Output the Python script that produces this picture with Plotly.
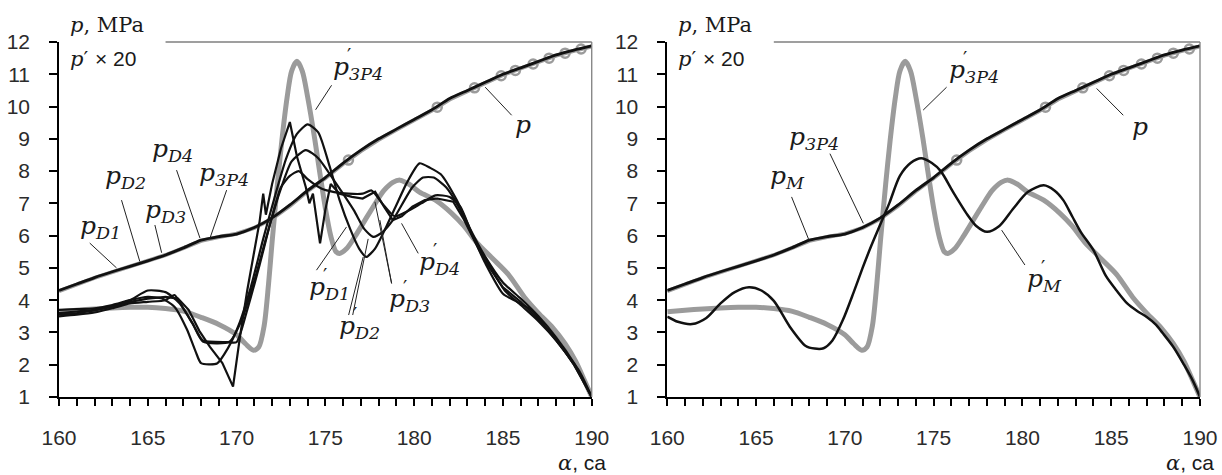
import numpy as np
import plotly.graph_objects as go

# ------------------------- data -------------------------
# crank angle axis ticks
x_ticks = [160, 165, 170, 175, 180, 185, 190]
y_ticks = list(range(1, 13))

# cylinder pressure p (black) and reference p_3P4 (gray), MPa
p_x = list(range(160, 191))
p_vals = [4.30, 4.50, 4.70, 4.88, 5.05, 5.22, 5.40, 5.62, 5.86, 5.97, 6.05,
          6.25, 6.55, 6.95, 7.40, 7.80, 8.25, 8.65, 9.00, 9.30, 9.60, 9.90,
          10.25, 10.50, 10.75, 11.00, 11.20, 11.40, 11.60, 11.75, 11.88]
p3p4_vals = [4.28, 4.49, 4.69, 4.87, 5.04, 5.21, 5.40, 5.61, 5.84, 5.96, 6.06,
             6.24, 6.52, 6.92, 7.38, 7.78, 8.22, 8.62, 8.97, 9.28, 9.58, 9.88,
             10.22, 10.48, 10.73, 10.98, 11.18, 11.38, 11.58, 11.73, 11.86]
loop_x = [176.3, 181.3, 183.4, 184.9, 185.7, 186.7, 187.6, 188.5, 189.4]

# derivative p'_3P4 x 20 (gray, thick)
dp3p4_x = [160, 161, 162, 163, 164, 165, 166, 167, 168, 169, 170, 170.5, 170.95,
           171.25, 171.55, 171.8, 172.0, 172.3, 172.55, 172.85, 173.1, 173.4,
           173.7, 174.0, 174.4, 174.7, 175.0, 175.3, 175.6, 175.8, 176.2, 176.7,
           177.2, 177.7, 178.3, 178.8, 179.2, 179.7, 180.3, 181.2, 182.1, 182.8,
           183.5, 184.4, 185.3, 186.2, 187.0, 187.8, 188.5, 189.1, 189.6, 190.0]
dp3p4 = [3.64, 3.69, 3.73, 3.76, 3.78, 3.78, 3.74, 3.66, 3.47, 3.25, 2.93, 2.65,
         2.45, 2.55, 3.2, 4.5, 5.8, 7.6, 8.95, 10.3, 11.1, 11.4, 11.1, 10.3, 9.0,
         7.9, 6.85, 6.0, 5.5, 5.45, 5.6, 6.0, 6.45, 6.9, 7.4, 7.65, 7.72, 7.6,
         7.35, 7.1, 6.7, 6.3, 5.8, 5.3, 4.8, 4.1, 3.6, 3.15, 2.65, 2.1, 1.5, 1.0]

# derivatives p'_D1..p'_D4 x 20 (left panel)
d1_x = [160, 161, 162, 163, 164, 165, 166, 166.7, 167.3, 167.9, 168.5, 169.2,
        169.8, 170.2, 170.6, 171.0, 171.3, 171.5, 171.65, 172.0, 172.5, 173.0,
        173.4, 173.9, 174.1, 174.3, 174.7, 175.0, 175.3, 175.8, 176.5, 177.1,
        177.8, 178.3, 178.8, 179.3, 179.9, 180.6, 181.3, 182.2, 182.8, 183.3,
        184, 185, 186, 187, 188, 189, 190]
d1_y = [3.55, 3.6, 3.68, 3.8, 3.95, 4.05, 4.1, 4.05, 3.7, 3.05, 2.55, 2.05,
        1.32, 2.9, 4.3, 5.6, 6.45, 7.3, 6.65, 7.6, 8.7, 9.52, 8.45, 7.5, 7.0,
        7.3, 5.76, 6.8, 7.6, 7.3, 7.2, 7.15, 7.36, 6.9, 6.48, 6.6, 6.9, 7.1,
        7.15, 7.05, 6.5, 5.95, 5.2, 4.4, 3.95, 3.4, 2.8, 2.0, 1.0]
d2_x = [160, 161, 162, 163, 164, 165, 165.8, 166.5, 167.2, 167.7, 168.0, 168.9,
        169.5, 170.1, 170.8, 171.5, 172.2, 172.8, 173.4, 174.0, 174.6, 175.25,
        175.8, 176.4, 176.9, 177.3, 177.8, 178.45, 179.0, 179.6, 180.3, 180.9,
        181.5, 182.4, 183.1, 184, 185, 186, 187, 188, 189, 190]
d2_y = [3.7, 3.72, 3.75, 3.85, 4.0, 4.1, 4.05, 3.8, 3.1, 2.4, 2.05, 2.04, 2.5,
        3.2, 4.4, 5.9, 7.3, 8.4, 9.15, 9.45, 9.2, 8.13, 7.1, 6.2, 5.6, 5.34,
        5.6, 6.3, 6.95, 7.65, 8.24, 8.1, 7.9, 7.1, 6.27, 5.35, 4.55, 4.05, 3.5,
        2.85, 2.05, 1.0]
d3_x = [160, 161, 162, 163, 164, 165, 166, 166.8, 167.5, 168.1, 169.6, 170.3,
        171, 171.7, 172.4, 173.1, 173.9, 174.6, 175.6, 176.6, 177.2, 177.7,
        178.2, 178.8, 179.9, 180.5, 181.1, 181.8, 182.5, 183.2, 184, 185, 185.8,
        186.6, 187.5, 188.5, 189.3, 190]
d3_y = [3.6, 3.65, 3.7, 3.82, 4.0, 4.3, 4.25, 3.9, 3.3, 2.72, 2.71, 3.4, 4.6,
        6.0, 7.3, 8.3, 8.65, 8.4, 7.62, 6.79, 6.2, 5.96, 6.1, 6.48, 7.5, 7.8,
        7.8, 7.5, 6.9, 6.1, 5.15, 4.2, 3.95, 3.7, 3.1, 2.4, 1.8, 1.0]
d4_x = [160, 161, 162, 163, 164, 165, 166, 166.5, 167, 167.6, 168.1, 169.5, 170,
        170.6, 171.3, 172, 172.5, 173, 173.5, 174, 174.8, 175.5, 176.3, 177.1,
        177.6, 178.2, 178.9, 179.6, 180.4, 181.2, 182, 182.6, 183.3, 184.1,
        185.1, 186, 187, 188, 189, 190]
d4_y = [3.5, 3.55, 3.62, 3.75, 3.9, 3.95, 4.0, 4.16, 3.75, 3.2, 2.75, 2.7, 2.7,
        3.7, 5.1, 6.6, 7.5, 7.85, 8.0, 7.75, 7.45, 7.35, 7.3, 7.3, 7.4, 7.0,
        6.6, 6.75, 7.0, 7.25, 7.2, 6.9, 6.0, 5.2, 4.3, 3.85, 3.35, 2.75, 2.0,
        1.0]

# derivative p'_M x 20 (right panel)
pm_x = [160, 160.6, 161.4, 162.2, 163, 163.8, 164.6, 165.3, 166, 166.9, 167.8,
        168.3, 168.8, 169.3, 169.9, 170.5, 171, 171.5, 172, 172.5, 173.1, 173.7,
        174.3, 174.9, 175.4, 176.1, 176.9, 177.4, 178, 178.7, 179.5, 180.3,
        181.2, 181.8, 182.3, 182.8, 183.3, 184, 184.7, 185.3, 185.9, 186.5,
        187, 187.5, 187.9, 188.5, 189.1, 189.6, 190]
pm_y = [3.49, 3.33, 3.26, 3.45, 3.9, 4.25, 4.4, 4.3, 3.98, 3.18, 2.58, 2.5,
        2.51, 2.75, 3.4, 4.25, 5.0, 5.7, 6.35, 7.0, 7.85, 8.25, 8.4, 8.25, 8.0,
        7.35, 6.65, 6.3, 6.12, 6.3, 6.85, 7.35, 7.56, 7.4, 7.1, 6.6, 6.1, 5.55,
        4.75, 4.3, 3.9, 3.65, 3.48, 3.25, 2.98, 2.55, 2.0, 1.5, 1.0]

# ------------------------- figure -------------------------
GRAY = "#9b9b9b"
BLACK = "#111111"
fig = go.Figure()

loop_y = list(np.interp(loop_x, p_x, p3p4_vals))

for xa, ya in (("x", "y"), ("x2", "y2")):
    fig.add_trace(go.Scatter(x=p_x, y=p3p4_vals, mode="lines", xaxis=xa, yaxis=ya,
                             line=dict(color=GRAY, width=4), showlegend=False))
    fig.add_trace(go.Scatter(x=loop_x, y=loop_y, mode="markers", xaxis=xa, yaxis=ya,
                             marker=dict(symbol="circle-open", size=9, color=GRAY,
                                         line=dict(color=GRAY, width=2.5)),
                             showlegend=False))
    fig.add_trace(go.Scatter(x=dp3p4_x, y=dp3p4, mode="lines", xaxis=xa, yaxis=ya,
                             line=dict(color=GRAY, width=5, shape="spline", smoothing=0.8),
                             showlegend=False))

# left panel black curves
for xs, ys, shp in ((d2_x, d2_y, "spline"), (d3_x, d3_y, "spline"),
                    (d4_x, d4_y, "spline"), (d1_x, d1_y, "linear")):
    fig.add_trace(go.Scatter(x=xs, y=ys, mode="lines", xaxis="x", yaxis="y",
                             line=dict(color=BLACK, width=2.2, shape=shp, smoothing=0.6),
                             showlegend=False))
fig.add_trace(go.Scatter(x=p_x, y=p_vals, mode="lines", xaxis="x", yaxis="y",
                         line=dict(color=BLACK, width=2.8, shape="spline", smoothing=0.6),
                         showlegend=False))
# right panel black curves
fig.add_trace(go.Scatter(x=pm_x, y=pm_y, mode="lines", xaxis="x2", yaxis="y2",
                         line=dict(color=BLACK, width=2.5, shape="spline", smoothing=0.8),
                         showlegend=False))
fig.add_trace(go.Scatter(x=p_x, y=p_vals, mode="lines", xaxis="x2", yaxis="y2",
                         line=dict(color=BLACK, width=2.8, shape="spline", smoothing=0.6),
                         showlegend=False))

TICKFONT = dict(family="Liberation Sans, Arial, sans-serif", size=21, color="#2b2b2b")
axis_common = dict(range=[160, 190], tickmode="array", tickvals=x_ticks,
                   ticks="outside", ticklen=7, tickwidth=1.5, tickcolor="black",
                   showline=True, linecolor="black", linewidth=1.6,
                   showgrid=False, zeroline=False, tickfont=TICKFONT,
                   ticklabelstandoff=14, automargin=False,
                   minor=dict(dtick=1, tick0=160, ticks="outside", ticklen=7,
                              tickwidth=1.5, tickcolor="black", showgrid=False))
yaxis_common = dict(range=[1, 12], tickmode="array", tickvals=y_ticks,
                    ticks="outside", ticklen=8, tickwidth=1.5, tickcolor="black",
                    showline=True, linecolor="black", linewidth=1.6,
                    showgrid=False, zeroline=False, tickfont=TICKFONT,
                    ticklabelstandoff=15, automargin=False)

fig.update_layout(
    width=1222, height=475,
    margin=dict(l=59, r=22, t=42, b=78, autoexpand=False),
    paper_bgcolor="white", plot_bgcolor="white",
    hovermode=False,
    xaxis=dict(domain=[0, 0.4669], anchor="y", **axis_common),
    xaxis2=dict(domain=[0.5331, 1], anchor="y2", **axis_common),
    yaxis=dict(anchor="x", **yaxis_common),
    yaxis2=dict(anchor="x2", **yaxis_common),
)

shapes = []
annotations = []
LBL = dict(family="DejaVu Serif, serif", size=25, color="#1a1a1a")

for xr, yr in (("x", "y"), ("x2", "y2")):
    # top and right frame lines
    shapes.append(dict(type="line", xref=f"{xr} domain", yref=f"{yr} domain",
                       x0=0.2, x1=1, y0=1, y1=1, line=dict(color="#7f7f7f", width=1.3)))
    shapes.append(dict(type="line", xref=f"{xr} domain", yref=f"{yr} domain",
                       x0=1, x1=1, y0=0, y1=1, line=dict(color="#7f7f7f", width=1.3)))
    annotations.append(dict(xref=f"{xr} domain", yref=f"{yr} domain", x=0.016, y=1.047,
                            xanchor="left", yanchor="middle", showarrow=False,
                            text="<i>p</i>, MPa", font=dict(family="DejaVu Serif, serif",
                                                           size=21, color="#1a1a1a")))
    annotations.append(dict(xref=f"{xr} domain", yref=f"{yr} domain", x=0.016, y=0.953,
                            xanchor="left", yanchor="middle", showarrow=False,
                            text="<i>p</i>′ <span style=\"font-family:Liberation Sans\">× 20</span>",
                            font=dict(family="DejaVu Serif, serif", size=21, color="#1a1a1a")))
    annotations.append(dict(xref=f"{xr} domain", yref=f"{yr} domain", x=0.982, y=-0.185,
                            xanchor="center", yanchor="middle", showarrow=False,
                            text="<i>α</i><span style=\"font-family:Liberation Sans\">, ca</span>",
                            font=dict(family="DejaVu Serif, serif", size=21, color="#1a1a1a")))

# curve labels: (axis, text-left x, text y, subscript, prime, leader lines)
labels = [
    ("x", 161.05, 6.26, "D1", False, [(161.73, 5.77, 163.24, 5.0)]),
    ("x", 162.46, 7.81, "D2", False, [(163.52, 7.1, 164.55, 5.2)]),
    ("x", 164.73, 6.76, "D3", False, [(165.4, 6.33, 165.78, 5.47)]),
    ("x", 165.11, 8.65, "D4", False, [(166.62, 8.03, 167.94, 5.92)]),
    ("x", 167.76, 7.90, "3P4", False, [(169.44, 7.41, 168.5, 5.92)]),
    ("x", 175.3, 11.2, "3P4", True, [(175.35, 10.66, 174.45, 9.9)]),
    ("x", 185.56, 9.45, "", False, [(185.49, 9.73, 184.0, 10.6)]),
    ("x", 173.94, 4.37, "D1", True, [(174.5, 4.93, 176.19, 6.27)]),
    ("x", 175.63, 3.18, "D2", True, [(176.31, 3.54, 177.13, 5.34), (176.54, 3.54, 177.41, 5.9)]),
    ("x", 178.45, 4.00, "D3", True, [(178.73, 4.52, 177.79, 7.05), (178.73, 4.52, 178.07, 6.48)]),
    ("x", 180.14, 5.15, "D4", True, [(180.23, 5.45, 179.29, 6.38)]),
    ("x2", 165.67, 7.81, "M", False, [(167.0, 7.2, 167.98, 5.86)]),
    ("x2", 166.74, 9.02, "3P4", False, [(169.16, 8.54, 171.04, 6.38)]),
    ("x2", 175.75, 11.1, "3P4", True, [(175.73, 10.6, 174.41, 9.89)]),
    ("x2", 186.06, 9.37, "", False, [(185.68, 9.73, 184.18, 10.56)]),
    ("x2", 180.14, 4.62, "M", True, [(180.14, 5.09, 178.83, 6.17)]),
]

for xr, lx, ly, sub, prime, leaders in labels:
    yr = "y" if xr == "x" else "y2"
    txt = "<i>p</i>" + (f"<sub><i>{sub}</i></sub>" if sub else "")
    annotations.append(dict(xref=xr, yref=yr, x=lx, y=ly, xanchor="left", yanchor="middle",
                            showarrow=False, text=txt, font=LBL))
    if prime:
        annotations.append(dict(xref=xr, yref=yr, x=lx, y=ly, xanchor="left",
                                yanchor="middle", xshift=14, yshift=13, showarrow=False,
                                text="′", font=dict(family="DejaVu Serif, serif", size=19,
                                                    color="#1a1a1a")))
    for x0, y0, x1, y1 in leaders:
        shapes.append(dict(type="line", xref=xr, yref=yr, x0=x0, y0=y0, x1=x1, y1=y1,
                           line=dict(color="#222222", width=1)))

fig.update_layout(shapes=shapes, annotations=annotations)
# remove the default page margin / scrollbars so the 1222x475 figure fills the window
fig.write_html("out.html",
               config={"displayModeBar": False},
               post_script="document.body.style.margin='0';"
                           "document.body.style.overflow='hidden';"
                           "document.documentElement.style.overflow='hidden';")
